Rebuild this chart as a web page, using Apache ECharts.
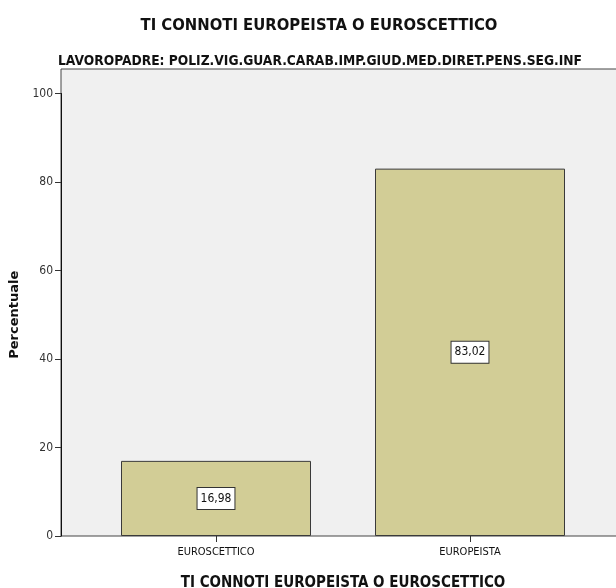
<!DOCTYPE html>
<html>
<head>
<meta charset="utf-8">
<script src="https://cdn.jsdelivr.net/npm/echarts@6/dist/echarts.min.js"></script>
<style>html,body{margin:0;padding:0;background:#fff;}#c{width:616px;height:588px;}</style>
</head>
<body>
<div id="c"></div>
<script>
const titleText = 'TI CONNOTI EUROPEISTA O EUROSCETTICO';
const subtitleText = 'LAVOROPADRE: POLIZ.VIG.GUAR.CARAB.IMP.GIUD.MED.DIRET.PENS.SEG.INF';
const categories = ['EUROSCETTICO', 'EUROPEISTA'];
const values = [16.98, 83.02];
const yTicks = [0, 20, 40, 60, 80, 100];
const xAxisTitle = 'TI CONNOTI EUROPEISTA O EUROSCETTICO';
const yAxisTitle = 'Percentuale';

const NARROW = '"Liberation Sans Narrow", "DejaVu Sans Condensed", "Liberation Sans", sans-serif';
const chart = echarts.init(document.getElementById('c'), null, {renderer: 'canvas'});
chart.setOption({
  animation: false,
  backgroundColor: '#fff',
  title: [
    {text: titleText, left: 314, textAlign: 'center', top: 12, textStyle: {fontFamily: NARROW, fontSize: 16.5, fontWeight: 'bold', color: '#111'}},
    {text: subtitleText, left: 315, textAlign: 'center', top: 49, textStyle: {fontFamily: NARROW, fontSize: 13.7, fontWeight: 'bold', color: '#111'}}
  ],
  grid: [
    {left: 61, right: -1, top: 69, bottom: 52, outerBoundsMode: 'none', containLabel: false, show: true, backgroundColor: '#f0f0f0', borderColor: '#444', borderWidth: 1},
    {left: 61, right: -1, top: 93.5, bottom: 52, outerBoundsMode: 'none', containLabel: false},
    {left: 89, right: 19, top: 93.5, bottom: 52, outerBoundsMode: 'none', containLabel: false}
  ],
  xAxis: [
    {gridIndex: 0, type: 'value', show: false},
    {gridIndex: 1, type: 'value', show: false},
    {gridIndex: 2, type: 'category', data: categories,
      axisLine: {show: false},
      axisTick: {show: true, alignWithLabel: true, length: 6, lineStyle: {color: '#333'}},
      axisLabel: {fontFamily: NARROW, fontSize: 11, color: '#111', margin: 11},
      name: xAxisTitle, nameLocation: 'middle', nameGap: 40,
      nameTextStyle: {fontFamily: NARROW, fontSize: 15, fontWeight: 'bold', color: '#111'}
    }
  ],
  yAxis: [
    {gridIndex: 0, type: 'value', show: false},
    {gridIndex: 1, type: 'value', min: yTicks[0], max: yTicks[yTicks.length - 1], interval: 20,
      axisLine: {show: true, lineStyle: {color: '#111', width: 1}},
      axisTick: {show: true, length: 6, lineStyle: {color: '#333'}},
      axisLabel: {fontFamily: NARROW, fontSize: 12, color: '#333', margin: 8},
      splitLine: {show: false},
      name: yAxisTitle, nameLocation: 'middle', nameGap: 36,
      nameTextStyle: {fontFamily: '"DejaVu Sans", sans-serif', fontSize: 13, fontWeight: 'bold', color: '#111'}
    },
    {gridIndex: 2, type: 'value', min: 0, max: 100, show: false}
  ],
  series: [{
    type: 'bar', xAxisIndex: 2, yAxisIndex: 2, data: values, barWidth: 190,
    itemStyle: {color: '#d2cd96', borderColor: '#3a3a3a', borderWidth: 1},
    label: {show: true, position: 'inside', formatter: p => p.value.toFixed(2).replace('.', ','),
      fontFamily: NARROW, fontSize: 12, color: '#111', backgroundColor: '#fff',
      borderColor: '#333', borderWidth: 1, padding: [5, 3, 4, 3]}
  }]
});
</script>
</body>
</html>
